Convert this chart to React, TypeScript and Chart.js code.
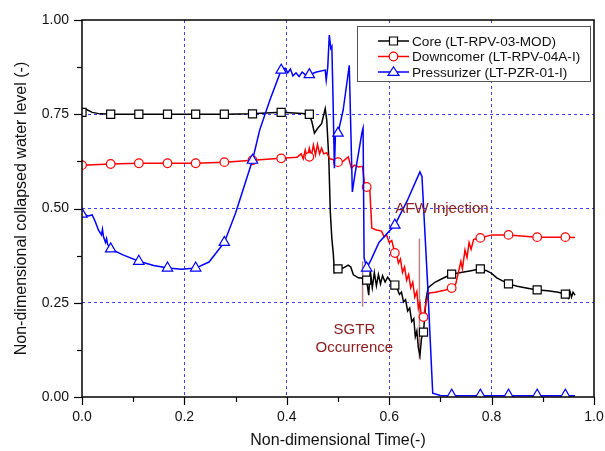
import React, { useEffect, useRef } from "react";
import { Chart, registerables } from "chart.js";
Chart.register(...registerables);

const FONT = "'Liberation Sans', Arial, Helvetica, sans-serif";

// Non-dimensional time at which the symbols are placed (all three series)
const MARKER_T = [0, 0.056, 0.111, 0.167, 0.222, 0.278, 0.333, 0.389, 0.444, 0.5, 0.556, 0.611, 0.667, 0.722, 0.778, 0.833, 0.889, 0.944];

// Core (LT-RPV-03-MOD)
const CORE_LINE: [number, number][] = [
  [0, 0.765], [0.01, 0.762], [0.02, 0.755], [0.035, 0.751], [0.06, 0.75], [0.12, 0.75], [0.2, 0.75], [0.28, 0.75],
  [0.33, 0.751], [0.389, 0.755], [0.43, 0.752], [0.444, 0.75], [0.449, 0.73], [0.454, 0.7], [0.46, 0.712],
  [0.468, 0.725], [0.475, 0.765], [0.478, 0.735], [0.482, 0.634], [0.485, 0.49], [0.488, 0.42], [0.491, 0.377],
  [0.493, 0.33], [0.497, 0.335], [0.5, 0.34], [0.51, 0.342], [0.52, 0.35], [0.525, 0.345], [0.53, 0.324],
  [0.54, 0.316], [0.548, 0.315], [0.552, 0.31], [0.556, 0.31], [0.56, 0.27], [0.563, 0.335], [0.567, 0.29],
  [0.571, 0.33], [0.575, 0.295], [0.579, 0.325], [0.583, 0.3], [0.587, 0.322], [0.592, 0.305], [0.597, 0.318],
  [0.603, 0.306], [0.611, 0.297], [0.615, 0.29], [0.62, 0.272], [0.624, 0.278], [0.628, 0.252], [0.632, 0.258],
  [0.636, 0.228], [0.64, 0.236], [0.644, 0.2], [0.648, 0.208], [0.651, 0.16], [0.654, 0.175], [0.657, 0.13],
  [0.66, 0.11], [0.663, 0.155], [0.667, 0.172], [0.672, 0.26], [0.676, 0.29], [0.69, 0.305], [0.705, 0.315],
  [0.722, 0.326], [0.74, 0.33], [0.76, 0.335], [0.778, 0.34], [0.79, 0.335], [0.8, 0.328], [0.81, 0.316],
  [0.833, 0.3], [0.85, 0.294], [0.865, 0.29], [0.889, 0.284], [0.91, 0.282], [0.93, 0.278], [0.944, 0.273],
  [0.95, 0.262], [0.953, 0.28], [0.956, 0.265], [0.959, 0.278], [0.963, 0.27],
];
const CORE_MARKS = [0.755, 0.75, 0.75, 0.75, 0.75, 0.75, 0.751, 0.755, 0.75, 0.34, 0.31, 0.297, 0.172, 0.326, 0.34, 0.3, 0.284, 0.273];

// Downcomer (LT-RPV-04A-I)
const DOWN_LINE: [number, number][] = [
  [0, 0.615], [0.056, 0.618], [0.111, 0.62], [0.167, 0.62], [0.222, 0.62], [0.278, 0.623], [0.333, 0.628],
  [0.389, 0.633], [0.42, 0.636], [0.428, 0.645], [0.432, 0.632], [0.436, 0.655], [0.44, 0.635], [0.444, 0.66],
  [0.448, 0.64], [0.452, 0.668], [0.456, 0.642], [0.46, 0.67], [0.464, 0.645], [0.468, 0.66], [0.472, 0.645],
  [0.478, 0.648], [0.484, 0.632], [0.49, 0.63], [0.5, 0.623], [0.51, 0.625], [0.52, 0.637], [0.526, 0.607],
  [0.532, 0.615], [0.54, 0.61], [0.548, 0.612], [0.552, 0.562], [0.556, 0.557], [0.562, 0.555], [0.566, 0.448],
  [0.575, 0.443], [0.585, 0.44], [0.59, 0.425], [0.595, 0.43], [0.6, 0.41], [0.605, 0.415], [0.611, 0.382],
  [0.615, 0.375], [0.618, 0.355], [0.622, 0.366], [0.626, 0.33], [0.63, 0.345], [0.634, 0.31], [0.638, 0.325],
  [0.642, 0.29], [0.646, 0.305], [0.65, 0.265], [0.654, 0.28], [0.657, 0.235], [0.66, 0.25], [0.663, 0.21],
  [0.667, 0.212], [0.672, 0.25], [0.678, 0.276], [0.69, 0.278], [0.71, 0.284], [0.722, 0.289], [0.73, 0.3],
  [0.735, 0.33], [0.74, 0.36], [0.743, 0.34], [0.748, 0.39], [0.752, 0.37], [0.756, 0.41], [0.76, 0.392],
  [0.765, 0.418], [0.778, 0.422], [0.8, 0.43], [0.833, 0.43], [0.889, 0.424], [0.944, 0.424], [0.963, 0.423],
];
const DOWN_MARKS = [0.615, 0.618, 0.62, 0.62, 0.62, 0.623, 0.628, 0.633, 0.637, 0.623, 0.557, 0.382, 0.212, 0.289, 0.422, 0.43, 0.424, 0.424];

// Pressurizer (LT-PZR-01-I)
const PZR_LINE: [number, number][] = [
  [0, 0.496], [0.006, 0.483], [0.012, 0.48], [0.02, 0.483], [0.026, 0.465], [0.032, 0.443], [0.038, 0.43],
  [0.04, 0.445], [0.042, 0.425], [0.046, 0.41], [0.048, 0.42], [0.05, 0.405], [0.056, 0.393], [0.08, 0.377],
  [0.111, 0.36], [0.14, 0.349], [0.167, 0.342], [0.195, 0.339], [0.222, 0.342], [0.248, 0.358], [0.278, 0.41],
  [0.3, 0.488], [0.333, 0.628], [0.347, 0.708], [0.367, 0.788], [0.389, 0.867], [0.397, 0.872], [0.402, 0.86],
  [0.407, 0.87], [0.412, 0.852], [0.418, 0.86], [0.424, 0.85], [0.43, 0.862], [0.436, 0.855], [0.444, 0.855],
  [0.458, 0.862], [0.475, 0.867], [0.477, 0.84], [0.48, 0.875], [0.483, 0.96], [0.486, 0.925], [0.488, 0.93],
  [0.49, 0.81], [0.493, 0.607], [0.495, 0.695], [0.5, 0.7], [0.51, 0.76], [0.522, 0.88], [0.524, 0.767],
  [0.528, 0.544], [0.533, 0.59], [0.547, 0.703], [0.549, 0.713], [0.551, 0.369], [0.556, 0.342], [0.565, 0.365],
  [0.58, 0.41], [0.611, 0.456], [0.635, 0.52], [0.66, 0.597], [0.664, 0.585], [0.675, 0.3], [0.685, 0.01],
  [0.7, 0.004], [0.75, 0.003], [0.85, 0.003], [0.963, 0.003],
];
const PZR_MARKS = [0.485, 0.393, 0.36, 0.342, 0.342, 0.41, 0.628, 0.867, 0.855, 0.7, 0.342, 0.456, null, 0.005, 0.005, 0.005, 0.005, 0.005];

const SERIES_LABELS = ["Core (LT-RPV-03-MOD)", "Downcomer (LT-RPV-04A-I)", "Pressurizer (LT-PZR-01-I)"];
const SERIES_COLORS = ["#000000", "#ff0000", "#0000ff"];
const SERIES_SYMBOLS = ["rect", "circle", "triangle"];

// Event markers: [time, yFrom, yTo]
const EVENT_LINES: [number, number, number][] = [
  [0.548, 0.24, 0.36],
  [0.659, 0.1, 0.42],
];
const EVENT_TEXTS: { t: number; y: number; text: string }[] = [
  { t: 0.532, y: 0.178, text: "SGTR" },
  { t: 0.532, y: 0.13, text: "Occurrence" },
  { t: 0.703, y: 0.5, text: "AFW Injection" },
];

function drawSymbol(ctx: CanvasRenderingContext2D, style: string, x: number, y: number, color: string) {
  ctx.save();
  ctx.fillStyle = "#fff";
  ctx.strokeStyle = color;
  ctx.lineWidth = 1.2;
  ctx.beginPath();
  if (style === "rect") {
    ctx.rect(x - 4, y - 4, 8, 8);
  } else if (style === "circle") {
    ctx.arc(x, y, 4.3, 0, Math.PI * 2);
  } else {
    ctx.moveTo(x, y - 5.2);
    ctx.lineTo(x + 5.5, y + 3.4);
    ctx.lineTo(x - 5.5, y + 3.4);
    ctx.closePath();
  }
  ctx.fill();
  ctx.stroke();
  ctx.restore();
}

const decorPlugin = {
  id: "decor",
  beforeDatasetsDraw(chart: any) {
    const { ctx, scales } = chart;
    const xs = scales.x, ys = scales.y;
    ctx.save();
    ctx.strokeStyle = "rgba(175,120,120,0.9)";
    ctx.lineWidth = 1.5;
    for (const [t, a, b] of EVENT_LINES) {
      const px = xs.getPixelForValue(t);
      ctx.beginPath();
      ctx.moveTo(px, ys.getPixelForValue(a));
      ctx.lineTo(px, ys.getPixelForValue(b));
      ctx.stroke();
    }
    ctx.restore();
  },
  afterDraw(chart: any) {
    const { ctx, chartArea: ca, scales } = chart;
    const xs = scales.x, ys = scales.y;
    ctx.save();
    // ticks
    ctx.strokeStyle = "#000";
    ctx.lineWidth = 1.2;
    for (const tk of xs.ticks) {
      const px = Math.round(xs.getPixelForValue(tk.value)) + 0.5;
      const major = Math.abs(tk.value * 5 - Math.round(tk.value * 5)) < 1e-6;
      ctx.beginPath();
      ctx.moveTo(px, ca.bottom);
      ctx.lineTo(px, ca.bottom + (major ? 8 : 5));
      ctx.stroke();
    }
    for (const tk of ys.ticks) {
      const py = Math.round(ys.getPixelForValue(tk.value)) + 0.5;
      const major = Math.abs(tk.value * 4 - Math.round(tk.value * 4)) < 1e-6;
      ctx.beginPath();
      ctx.moveTo(ca.left, py);
      ctx.lineTo(ca.left - (major ? 8 : 5), py);
      ctx.stroke();
    }
    // frame
    ctx.lineWidth = 1.5;
    ctx.strokeRect(ca.left, ca.top, ca.right - ca.left, ca.bottom - ca.top);
    // event texts
    ctx.fillStyle = "#8c2020";
    ctx.font = `15px ${FONT}`;
    ctx.textAlign = "center";
    ctx.textBaseline = "middle";
    for (const e of EVENT_TEXTS) {
      ctx.fillText(e.text, xs.getPixelForValue(e.t), ys.getPixelForValue(e.y));
    }
    // legend
    const L = 357, T = 26, R = 590, B = 81;
    ctx.fillStyle = "#fff";
    ctx.fillRect(L, T, R - L, B - T);
    ctx.strokeStyle = "#555";
    ctx.lineWidth = 1;
    ctx.strokeRect(L + 0.5, T + 0.5, R - L, B - T);
    ctx.font = `13.6px ${FONT}`;
    ctx.textAlign = "left";
    ctx.textBaseline = "middle";
    const rows = [41, 56.5, 72];
    SERIES_LABELS.forEach((lab, i) => {
      const yy = rows[i];
      ctx.strokeStyle = SERIES_COLORS[i];
      ctx.lineWidth = 1.5;
      ctx.beginPath();
      ctx.moveTo(378, yy);
      ctx.lineTo(409, yy);
      ctx.stroke();
      drawSymbol(ctx, SERIES_SYMBOLS[i], 393.5, yy, SERIES_COLORS[i]);
      ctx.fillStyle = "#111";
      ctx.fillText(lab, 412, yy + 1);
    });
    ctx.restore();
  },
};

function lineDs(label: string, data: [number, number][], color: string, order: number) {
  return {
    label,
    data: data.map(([x, y]) => ({ x, y })),
    borderColor: color,
    borderWidth: 1.5,
    pointRadius: 0,
    fill: false,
    tension: 0,
    order,
  };
}

function markDs(label: string, ys: (number | null)[], color: string, style: string, radius: number, order: number) {
  return {
    label,
    data: MARKER_T.map((x, i) => ({ x, y: ys[i] })).filter((p) => p.y !== null),
    showLine: false,
    pointStyle: style,
    pointRadius: radius,
    pointHoverRadius: radius,
    pointBackgroundColor: "#fff",
    pointBorderColor: color,
    pointBorderWidth: 1.2,
    borderColor: color,
    order,
  };
}

export default function App() {
  const ref = useRef<HTMLCanvasElement | null>(null);
  useEffect(() => {
    if (!ref.current) return;
    const isMajorX = (v: number) => Math.abs(v * 5 - Math.round(v * 5)) < 1e-6;
    const isMajorY = (v: number) => Math.abs(v * 4 - Math.round(v * 4)) < 1e-6;
    const gridColor = (major: boolean, v: number) =>
      major && v > 0.001 && v < 0.999 ? "#3f3fff" : "rgba(0,0,0,0)";
    const chart = new Chart(ref.current, {
      type: "line",
      data: {
        datasets: [
          lineDs(SERIES_LABELS[0], CORE_LINE, SERIES_COLORS[0], 6),
          markDs(SERIES_LABELS[0], CORE_MARKS, SERIES_COLORS[0], "rect", 5.7, 5),
          lineDs(SERIES_LABELS[1], DOWN_LINE, SERIES_COLORS[1], 4),
          markDs(SERIES_LABELS[1], DOWN_MARKS, SERIES_COLORS[1], "circle", 4.3, 3),
          lineDs(SERIES_LABELS[2], PZR_LINE, SERIES_COLORS[2], 2),
          markDs(SERIES_LABELS[2], PZR_MARKS, SERIES_COLORS[2], "triangle", 6, 1),
        ] as any,
      },
      options: {
        animation: false,
        responsive: false,
        devicePixelRatio: 1,
        layout: { padding: { left: 0, right: 11, top: 20, bottom: 0 } },
        plugins: { legend: { display: false }, tooltip: { enabled: false } },
        scales: {
          x: {
            type: "linear",
            min: 0,
            max: 1,
            afterFit: (s: any) => { s.height = 54; s.paddingLeft = 0; s.paddingRight = 0; },
            border: { display: false, dash: [3, 3] },
            grid: {
              drawTicks: false,
              color: (c: any) => gridColor(isMajorX(c.tick.value), c.tick.value),
              lineWidth: 1,
            },
            ticks: {
              stepSize: 0.1,
              autoSkip: false,
              maxRotation: 0,
              padding: 12,
              color: "#111",
              font: { family: FONT, size: 14 },
              callback: (v: any) => (isMajorX(Number(v)) ? Number(v).toFixed(1) : ""),
            },
            title: {
              display: true,
              text: "Non-dimensional Time(-)",
              color: "#111",
              font: { family: FONT, size: 16 },
              padding: { top: 0, bottom: 1 },
            },
          },
          y: {
            type: "linear",
            min: 0,
            max: 1,
            afterFit: (s: any) => { s.width = 82; s.paddingTop = 0; s.paddingBottom = 0; },
            border: { display: false, dash: [3, 3] },
            grid: {
              drawTicks: false,
              color: (c: any) => gridColor(isMajorY(c.tick.value), c.tick.value),
              lineWidth: 1,
            },
            ticks: {
              stepSize: 0.125,
              autoSkip: false,
              padding: 13,
              color: "#111",
              font: { family: FONT, size: 14 },
              callback: (v: any) => (isMajorY(Number(v)) ? Number(v).toFixed(2) : ""),
            },
            title: {
              display: true,
              text: "Non-dimensional collapsed water level (-)",
              color: "#111",
              font: { family: FONT, size: 16 },
              padding: { top: 12, bottom: 0 },
            },
          },
        },
      } as any,
      plugins: [decorPlugin],
    });
    return () => chart.destroy();
  }, []);
  return (
    <div style={{ position: "absolute", left: 0, top: 0, width: 605, height: 451, background: "#fff" }}>
      <canvas ref={ref} width={605} height={451} />
    </div>
  );
}
